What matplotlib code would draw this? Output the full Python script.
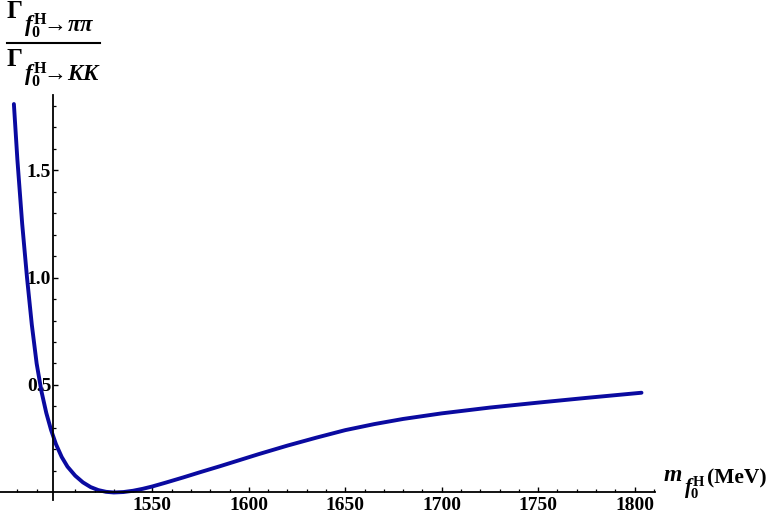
import numpy as np
import matplotlib.pyplot as plt
from matplotlib.ticker import FixedLocator
from matplotlib.lines import Line2D

plt.rcParams["font.family"] = "Liberation Serif"
plt.rcParams["font.weight"] = "bold"
plt.rcParams["mathtext.fontset"] = "custom"
plt.rcParams["mathtext.rm"] = "Liberation Serif:bold"
plt.rcParams["mathtext.it"] = "Liberation Serif:bold:italic"
plt.rcParams["mathtext.bf"] = "Liberation Serif:bold"

# curve
mass = [1478.2, 1480.0, 1482.5, 1485.0, 1487.5, 1490.0, 1492.5, 1495.0, 1497.5,
        1500.0, 1503.0, 1506.0, 1510.0, 1514.0, 1518.0, 1522.0, 1526.0, 1530.0,
        1535.0, 1540.0, 1545.0, 1550.0, 1557.0, 1566.0, 1575.0, 1585.0, 1595.0,
        1605.0, 1620.0, 1635.0, 1650.0, 1665.0, 1680.0, 1700.0, 1725.0, 1750.0,
        1775.0, 1803.6]
ratio = [1.807, 1.55, 1.25, 1.00, 0.78, 0.60, 0.47, 0.37, 0.29,
         0.225, 0.165, 0.120, 0.078, 0.047, 0.025, 0.011, 0.003, 0.000,
         0.002, 0.008, 0.017, 0.028, 0.046, 0.070, 0.095, 0.122, 0.150,
         0.178, 0.218, 0.255, 0.290, 0.318, 0.342, 0.368, 0.395, 0.418,
         0.440, 0.464]

x_major = [1550, 1600, 1650, 1700, 1750, 1800]
x_minor = [v for v in range(1480, 1811, 10) if v % 50 != 0]
y_major = [0.5, 1.0, 1.5]
y_minor = [0.1, 0.2, 0.3, 0.4, 0.6, 0.7, 0.8, 0.9, 1.1, 1.2, 1.3, 1.4, 1.6, 1.7, 1.8]

fig = plt.figure(figsize=(7.68, 5.16), dpi=100)
ax = fig.add_axes([0.0, 16 / 516, 655 / 768, 405 / 516])
ax.plot(mass, ratio, color="#0a0aa0", lw=2.8, solid_capstyle="round")

ax.set_xlim(1471, 1810.6)
ax.set_ylim(-0.035, 1.849)

for s in ["top", "right"]:
    ax.spines[s].set_visible(False)
ax.spines["left"].set_position(("data", 1498.6))
ax.spines["bottom"].set_position(("data", 0))
ax.spines["left"].set_linewidth(1.3)
ax.spines["bottom"].set_linewidth(1.3)

ax.xaxis.set_major_locator(FixedLocator(x_major))
ax.xaxis.set_minor_locator(FixedLocator(x_minor))
ax.yaxis.set_major_locator(FixedLocator(y_major))
ax.yaxis.set_minor_locator(FixedLocator(y_minor))
ax.set_xticklabels([str(v) for v in x_major])
ax.set_yticklabels([f"{v:.1f}" for v in y_major])
ax.tick_params(which="major", direction="in", length=3.5, width=1.0,
               labelsize=14, pad=3)
ax.tick_params(axis="y", which="major", pad=1.5)
ax.tick_params(which="minor", direction="in", length=2.0, width=0.9)
ax.patch.set_alpha(0)


def px(x, y):
    return x / 768, 1 - y / 516


# y label as a stacked fraction
fig.text(*px(7, 18), "Γ", fontsize=18, ha="left", va="baseline")
fig.text(*px(24, 32), r"$f_0^{\mathrm{H}}\!\!\to\!\pi\pi$",
         fontsize=16.5, ha="left", va="baseline")
fig.add_artist(Line2D([7 / 768, 100 / 768], [1 - 43 / 516, 1 - 43 / 516],
                      color="black", lw=1.5))
fig.text(*px(7, 66), "Γ", fontsize=18, ha="left", va="baseline")
fig.text(*px(24, 81), r"$f_0^{\mathrm{H}}\!\!\to\! KK$",
         fontsize=16.5, ha="left", va="baseline")

# x label
fig.text(*px(663, 481), r"$m$", fontsize=17, ha="left", va="baseline")
fig.text(*px(684, 494), r"$f_0^{\mathrm{H}}$", fontsize=15, ha="left", va="baseline")
fig.text(*px(767, 483), "(MeV)", fontsize=15.5, ha="right", va="baseline")

fig.savefig("out.png", dpi=100)
